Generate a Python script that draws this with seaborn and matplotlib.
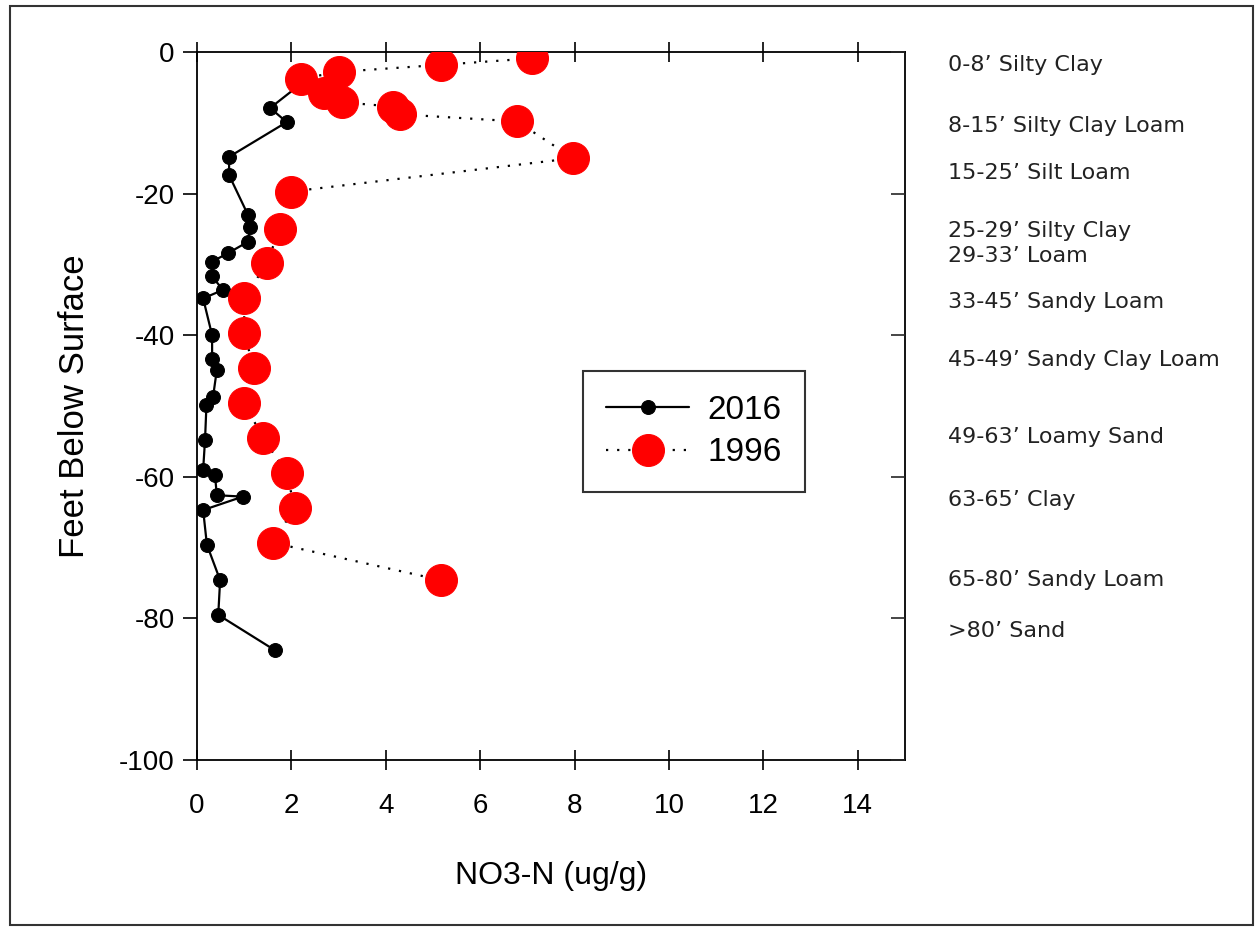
import matplotlib
matplotlib.use("Agg")
import matplotlib.pyplot as plt
import matplotlib.transforms as mtransforms
from matplotlib.patches import Rectangle
import seaborn as sns
import pandas as pd

# 2016 profile (NO3-N ug/g vs depth, ft)
no3_2016 = [2.2, 1.55, 1.9, 0.68, 0.68, 1.08, 1.12, 1.08, 0.66, 0.32, 0.32, 0.55, 0.13,
            0.32, 0.32, 0.42, 0.34, 0.2, 0.17, 0.13, 0.38, 0.42, 0.97, 0.13, 0.21,
            0.49, 0.45, 1.65]
depth_2016 = [-4.5, -7.9, -9.9, -14.8, -17.4, -23, -24.7, -26.8, -28.4, -29.6, -31.7, -33.6, -34.8,
              -40, -43.3, -44.9, -48.7, -49.9, -54.8, -59, -59.7, -62.6, -62.8, -64.7, -69.6,
              -74.6, -79.5, -84.5]

# 1996 profile
no3_1996 = [7.09, 5.18, 3.0, 2.2, 2.7, 3.08, 4.15, 4.3, 6.78, 7.97, 2.0, 1.75, 1.48,
            1.0, 1.0, 1.2, 1.0, 1.4, 1.9, 2.07, 1.6, 5.17]
depth_1996 = [-0.9, -1.8, -2.8, -3.8, -5.8, -7.1, -7.7, -8.8, -9.8, -15, -19.7, -25, -29.8,
              -34.8, -39.7, -44.6, -49.6, -54.5, -59.5, -64.4, -69.3, -74.6]

soil_labels = ["0-8\u2019 Silty Clay", "8-15\u2019 Silty Clay Loam", "15-25\u2019 Silt Loam",
               "25-29\u2019 Silty Clay", "29-33\u2019 Loam", "33-45\u2019 Sandy Loam",
               "45-49\u2019 Sandy Clay Loam", "49-63\u2019 Loamy Sand", "63-65\u2019 Clay",
               "65-80\u2019 Sandy Loam", ">80\u2019 Sand"]
soil_label_depth = [-1.8, -10.5, -17.1, -25.3, -28.8, -35.3, -43.5, -54.4, -63.3, -74.6, -81.8]

df16 = pd.DataFrame({"no3": no3_2016, "depth": depth_2016})
df96 = pd.DataFrame({"no3": no3_1996, "depth": depth_1996})

sns.set_style("ticks")
plt.rcParams['font.family'] = ['Liberation Sans', 'DejaVu Sans']
plt.rcParams['axes.unicode_minus'] = False
plt.rcParams['text.color'] = 'black'
plt.rcParams['axes.labelcolor'] = 'black'

fig = plt.figure(figsize=(12.58, 9.31), dpi=100)
ax = fig.add_axes([0.1566, 0.1837, 0.5628, 0.7604])

sns.lineplot(data=df16, x="no3", y="depth", sort=False, estimator=None, ax=ax,
             color="black", lw=1.6, marker="o", markersize=10, markeredgecolor="black",
             label="2016", zorder=2)
sns.lineplot(data=df96, x="no3", y="depth", sort=False, estimator=None, ax=ax,
             color="black", lw=1.6, linestyle=(0, (1, 4)), marker="o", markersize=23,
             markerfacecolor="red", markeredgecolor="red", label="1996", zorder=3)

ax.set_xlim(0, 15)
ax.set_ylim(-100, 0)
ax.set_xticks(range(0, 15, 2))
ax.set_yticks(range(-100, 1, 20))
ax.set_xlabel("NO3-N (ug/g)", fontsize=23, labelpad=30)
ax.set_ylabel("Feet Below Surface", fontsize=25, labelpad=20)
for s in ax.spines.values():
    s.set_visible(True)
    s.set_linewidth(1.3)
    s.set_color("black")
ax.tick_params(axis="x", direction="inout", length=14, width=1.2, top=True,
               labelsize=20, pad=17, colors="black")
ax.tick_params(axis="y", direction="out", length=10, width=1.2, right=False,
               labelsize=20, pad=6, colors="black")

# inward ticks on the right spine
ax2 = ax.twinx()
ax2.set_ylim(-100, 0)
ax2.set_yticks(range(-100, 1, 20))
ax2.tick_params(axis="y", direction="in", length=10, width=1.2, labelright=False)
for s in ax2.spines.values():
    s.set_visible(False)

leg = ax.legend(loc="center", bbox_to_anchor=(0.702, 0.464), fontsize=24, frameon=True,
                fancybox=False, edgecolor="black", handlelength=2.5, borderpad=0.7,
                labelspacing=0.35, handletextpad=0.55)
leg.get_frame().set_linewidth(1.5)

trans = mtransforms.blended_transform_factory(ax.transAxes, ax.transData)
for lab, d in zip(soil_labels, soil_label_depth):
    ax.text(1.061, d, lab, transform=trans, fontsize=16, va="center", ha="left",
            family="DejaVu Sans", color="#222222", clip_on=False)

fig.patches.append(Rectangle((0.008, 0.006), 0.988, 0.988, transform=fig.transFigure,
                             fill=False, edgecolor="#333333", lw=1.5))

fig.savefig("out.png", dpi=100)
